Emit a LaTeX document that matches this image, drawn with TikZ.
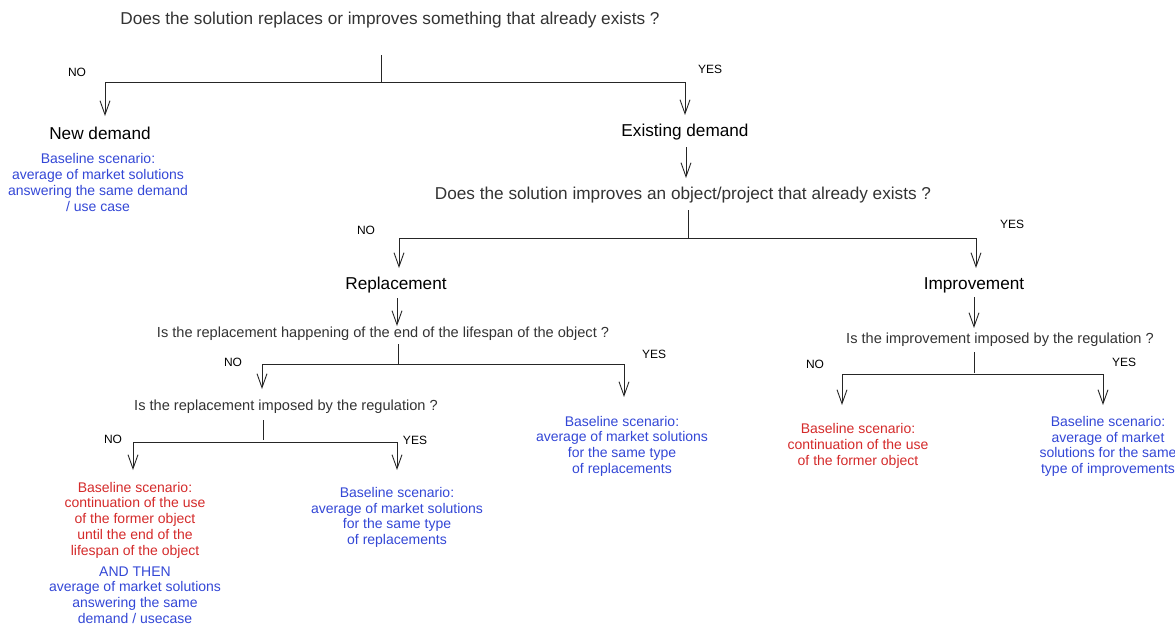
\documentclass[tikz,border=0pt]{standalone}
\usepackage{fontspec}
\setmainfont{Liberation Sans}
\usetikzlibrary{arrows.meta}
\definecolor{qgray}{HTML}{333333}
\definecolor{bblue}{HTML}{3347D6}
\definecolor{rred}{HTML}{D42A2A}
\tikzset{
  line/.style={draw=black!85, line width=0.9pt},
  arr/.style={line, -{Straight Barb[length=14pt,width=10pt,line width=0.9pt]}},
  question/.style={text=qgray, inner sep=0pt, font=\fontsize{17.2}{20}\selectfont},
  smallq/.style={text=qgray, inner sep=0pt, font=\fontsize{14.6}{17}\selectfont},
  head/.style={text=black, inner sep=0pt, font=\fontsize{17.2}{20}\selectfont},
  yn/.style={text=black, inner sep=0pt, font=\fontsize{12}{14}\selectfont},
  bluetxt/.style={text=bblue, inner sep=0pt, align=center, font=\fontsize{14}{15.7}\selectfont},
  redtxt/.style={text=rred, inner sep=0pt, align=center, font=\fontsize{14}{15.7}\selectfont},
}
\begin{document}
\begin{tikzpicture}[x=1pt,y=-1pt]
\useasboundingbox (0,0) rectangle (1175,625);
% Level 1
\node[question] (q1) at (390,20) {Does the solution replaces or improves something that already exists ?};
\coordinate (s1a) at (381,55);
\coordinate (s1b) at (381,82);
\coordinate (h1l) at (105,82);
\coordinate (h1r) at (685,82);
\coordinate (a1l) at (105,116);
\coordinate (a1r) at (685,115);
\draw[line] (s1a) -- (s1b);
\draw[line] (h1l) -- (h1r);
\draw[arr] (h1l) -- (a1l);
\draw[arr] (h1r) -- (a1r);
\node[yn] (no1) at (77,72) {NO};
\node[yn] (yes1) at (710,69) {YES};
\node[head] (nd) at (100,133) {New demand};
\node[head] (ed) at (685,132.5) {Existing demand};
\node[bluetxt] (ndtxt) at (98,182.5) {Baseline scenario:\\average of market solutions\\answering the same demand\\/ use case};
% Level 2
\node[question] (q2) at (683,195) {Does the solution improves an object/project that already exists ?};
\coordinate (e2a) at (686,147);
\coordinate (e2b) at (686,178);
\draw[arr] (e2a) -- (e2b);
\coordinate (s2a) at (688,210);
\coordinate (s2b) at (688,238);
\coordinate (h2l) at (399,238);
\coordinate (h2r) at (976,238);
\coordinate (a2l) at (399,268);
\coordinate (a2r) at (976,268);
\draw[line] (s2a) -- (s2b);
\draw[line] (h2l) -- (h2r);
\draw[arr] (h2l) -- (a2l);
\draw[arr] (h2r) -- (a2r);
\node[yn] (no2) at (366,230) {NO};
\node[yn] (yes2) at (1012,224) {YES};
\node[head] (rep) at (396,285.5) {Replacement};
\node[head] (imp) at (974,285.5) {Improvement};
% Replacement branch
\coordinate (r3a) at (397,298);
\coordinate (r3b) at (397,326);
\draw[arr] (r3a) -- (r3b);
\node[smallq] (q3) at (383,334) {Is the replacement happening of the end of the lifespan of the object ?};
\coordinate (s3a) at (398,344);
\coordinate (s3b) at (398,364);
\coordinate (h3l) at (262,364);
\coordinate (h3r) at (624,364);
\coordinate (a3l) at (262,389);
\coordinate (a3r) at (624,397);
\draw[line] (s3a) -- (s3b);
\draw[line] (h3l) -- (h3r);
\draw[arr] (h3l) -- (a3l);
\draw[arr] (h3r) -- (a3r);
\node[yn] (no3) at (233,362) {NO};
\node[yn] (yes3) at (654,354) {YES};
\node[bluetxt] (r3yes) at (622,446) {Baseline scenario:\\average of market solutions\\for the same type\\of replacements};
\node[smallq] (q4) at (286,407) {Is the replacement imposed by the regulation ?};
\coordinate (s4a) at (263,420);
\coordinate (s4b) at (263,440);
\coordinate (h4l) at (133,442);
\coordinate (h4r) at (397,442);
\coordinate (a4l) at (133,470);
\coordinate (a4r) at (397,470);
\draw[line] (s4a) -- (s4b);
\draw[line] (h4l) -- (h4r);
\draw[arr] (h4l) -- (a4l);
\draw[arr] (h4r) -- (a4r);
\node[yn] (no4) at (113,439) {NO};
\node[yn] (yes4) at (415,440) {YES};
\node[redtxt] (r4no) at (135,520) {Baseline scenario:\\continuation of the use\\of the former object\\until the end of the\\lifespan of the object};
\node[bluetxt] (r4then) at (135,595) {AND THEN\\average of market solutions\\answering the same\\demand / usecase};
\node[bluetxt] (r4yes) at (397,517.5) {Baseline scenario:\\average of market solutions\\for the same type\\of replacements};
% Improvement branch
\coordinate (i5a) at (974,297);
\coordinate (i5b) at (974,328);
\draw[arr] (i5a) -- (i5b);
\node[smallq] (q5) at (1000,340) {Is the improvement imposed by the regulation ?};
\coordinate (s5a) at (974,352);
\coordinate (s5b) at (974,373);
\coordinate (h5l) at (842,374);
\coordinate (h5r) at (1103,374);
\coordinate (a5l) at (842,405);
\coordinate (a5r) at (1103,405);
\draw[line] (s5a) -- (s5b);
\draw[line] (h5l) -- (h5r);
\draw[arr] (h5l) -- (a5l);
\draw[arr] (h5r) -- (a5r);
\node[yn] (no5) at (815,364) {NO};
\node[yn] (yes5) at (1124,362) {YES};
\node[redtxt] (i5no) at (858,446) {Baseline scenario:\\continuation of the use\\of the former object};
\node[bluetxt] (i5yes) at (1108,446.5) {Baseline scenario:\\average of market\\solutions for the same\\type of improvements};
\end{tikzpicture}
\end{document}
